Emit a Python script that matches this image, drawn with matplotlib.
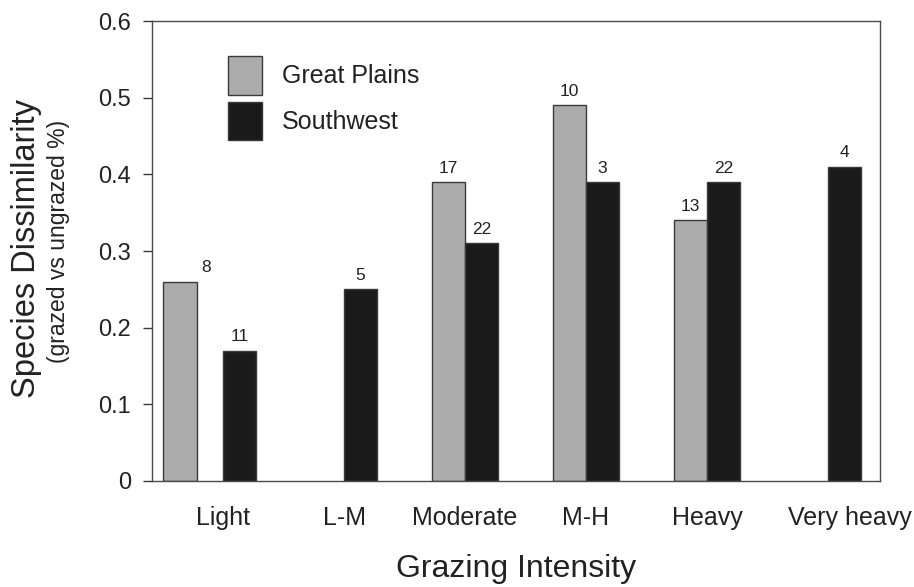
import numpy as np
import matplotlib
matplotlib.use("Agg")
import matplotlib.pyplot as plt

categories = ["Light", "L-M", "Moderate", "M-H", "Heavy", "Very heavy"]
great_plains = [0.26, np.nan, 0.39, 0.49, 0.34, np.nan]
southwest = [0.17, 0.25, 0.31, 0.39, 0.39, 0.41]
great_plains_n = [8, None, 17, 10, 13, None]
southwest_n = [11, 5, 22, 3, 22, 4]

plt.rcParams["font.family"] = ["Liberation Sans", "DejaVu Sans"]
text_col = "#222222"
edge_col = "#3a3a3a"

fig = plt.figure(figsize=(9.14, 5.87), dpi=100)
ax = fig.add_axes([0.1663, 0.1806, 0.7965, 0.7836])

x = np.arange(len(categories), dtype=float)
w = 0.275
gp_x = x - w / 2
sw_x = x + w / 2
# the Light grazing bar for Great Plains sits a bit further left in the original
gp_bar_x = gp_x.copy()
gp_bar_x[0] -= 0.218

ax.bar(gp_bar_x, great_plains, width=w, color="#acacac", edgecolor=edge_col,
       linewidth=1.0, label="Great Plains", zorder=2)
ax.bar(sw_x, southwest, width=w, color="#1a1a1a", edgecolor=edge_col,
       linewidth=1.0, label="Southwest", zorder=2)

for xi, v, n in zip(gp_x, great_plains, great_plains_n):
    if n is not None:
        ax.annotate(str(n), (xi, v), xytext=(0, 10), textcoords="offset points",
                    ha="center", va="center", fontsize=12.5, color=text_col)
for xi, v, n in zip(sw_x, southwest, southwest_n):
    ax.annotate(str(n), (xi, v), xytext=(0, 10), textcoords="offset points",
                ha="center", va="center", fontsize=12.5, color=text_col)

ax.set_xlim(-0.587, 5.43)
ax.set_ylim(0, 0.6)
ax.set_yticks([0, 0.1, 0.2, 0.3, 0.4, 0.5, 0.6])
ax.set_yticklabels(["0", "0.1", "0.2", "0.3", "0.4", "0.5", "0.6"])

tick_pos = x.copy()
tick_pos[-1] += 0.18
ax.set_xticks(tick_pos)
ax.set_xticklabels(categories)

ax.tick_params(axis="y", direction="out", length=6.5, width=1.0, color=edge_col,
               labelsize=17, labelcolor=text_col, pad=8.5)
ax.tick_params(axis="x", length=0, labelsize=18, labelcolor=text_col, pad=18)

for spine in ax.spines.values():
    spine.set_color("#4a4a4a")
    spine.set_linewidth(1.0)

ax.set_xlabel("Grazing Intensity", fontsize=23, color=text_col, va="center")
ax.xaxis.set_label_coords(0.5, -0.192)

fig.text(27 / 914, 1 - 248 / 587, "Species Dissimilarity", rotation=90,
         ha="center", va="center", fontsize=23.5, color=text_col)
fig.text(59 / 914, 1 - 241 / 587, "(grazed vs ungrazed %)", rotation=90,
         ha="center", va="center", fontsize=16.5, color=text_col)

ax.legend(loc="upper left", bbox_to_anchor=(0.1044, 0.9239), frameon=False,
          fontsize=18, handlelength=1.36, handleheight=2.0, labelspacing=0.28,
          handletextpad=0.8, borderpad=0, borderaxespad=0, labelcolor=text_col)

fig.savefig("out.png", dpi=100)
